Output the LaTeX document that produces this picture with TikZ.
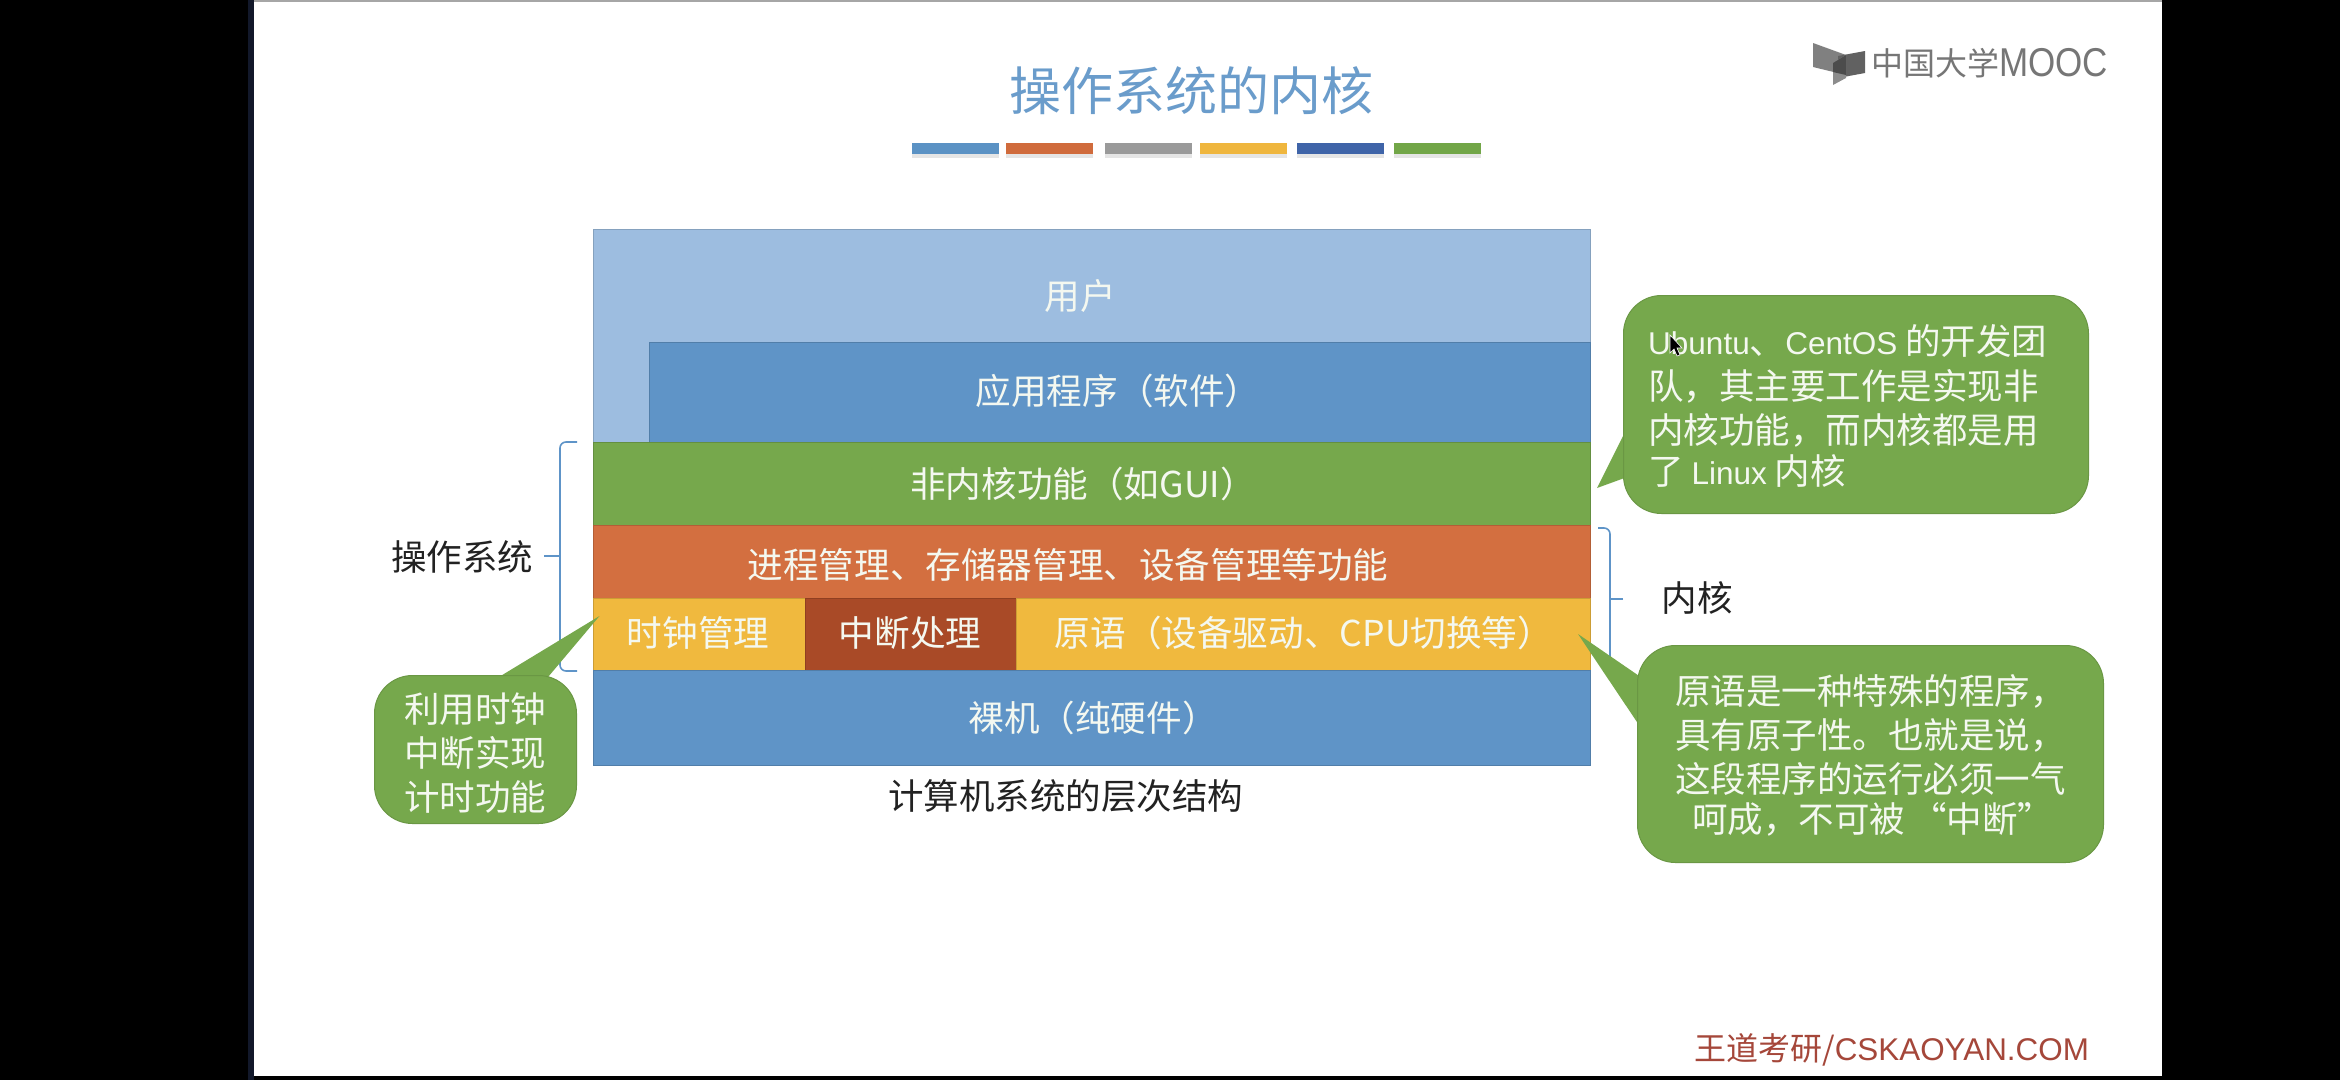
\documentclass[tikz,border=0pt]{standalone}
\usepackage{fontspec}
\setmainfont{Noto Sans CJK SC}
\newfontfamily\footfont{Liberation Sans}
\definecolor{userblue}{HTML}{9DBDE0}
\definecolor{appblue}{HTML}{5F94C7}
\definecolor{kgreen}{HTML}{76A84C}
\definecolor{korange}{HTML}{D36F40}
\definecolor{kyellow}{HTML}{F0B93E}
\definecolor{kbrown}{HTML}{A94A27}
\definecolor{titleblue}{HTML}{6A9CCB}
\definecolor{bracecol}{HTML}{5E94C8}
\definecolor{inktext}{HTML}{222222}
\definecolor{softwhite}{HTML}{F4F8F0}
\definecolor{footred}{HTML}{A5473A}
\definecolor{logogray}{HTML}{767676}
\definecolor{slidenavy}{HTML}{12182A}
\definecolor{barblue}{HTML}{5B92C4}
\definecolor{barorange}{HTML}{D06B3C}
\definecolor{bargray}{HTML}{9A9A9A}
\definecolor{baryellow}{HTML}{EFB63E}
\definecolor{barnavy}{HTML}{3F64A8}
\definecolor{bargreen}{HTML}{72A648}
\newcommand{\fs}[2]{\fontsize{#1}{#2}\selectfont}
\tikzset{
  layer/.style={rectangle,anchor=north west,inner sep=0pt,draw=#1!85!black,fill=#1,line width=1pt},
  ontext/.style={text=softwhite,inner sep=0pt,font=\fs{35.6}{44}},
  blacktext/.style={text=inktext,inner sep=0pt,font=\fs{35.5}{44}},
  bubble/.style={rectangle,anchor=north west,inner sep=0pt,rounded corners=38pt,fill=kgreen,draw=kgreen!90!black,line width=1pt},
  tail/.style={fill=kgreen},
  bubbletext/.style={text=softwhite,inner sep=0pt,anchor=north west,align=left,font=\fs{35.5}{43.7}},
  bracket/.style={draw=bracecol,line width=1.6pt,rounded corners=6pt},
  tick/.style={draw=bracecol,line width=1.6pt},
  deco/.style={rectangle,anchor=north west,inner sep=0pt,minimum height=11pt,minimum width=87pt,fill=#1},
  decoshadow/.style={rectangle,anchor=north west,inner sep=0pt,minimum height=11pt,minimum width=87pt,fill=black,fill opacity=0.10},
}
\begin{document}
\begin{tikzpicture}[x=1pt,y=-1pt]
\useasboundingbox (0,0) rectangle (2340,1080);
% screen and slide
\fill[black] (0,0) rectangle (2340,1080);
\fill[slidenavy] (248,0) rectangle (254,1080);
\fill[white] (254,2) rectangle (2162,1076);
\fill[black!35] (254,0) rectangle (2162,2);
% title
\node[text=titleblue,inner sep=0pt,font=\fs{52}{60}] (title) at (1191,91) {操作系统的内核};
% decorative bars
\foreach \n/\x/\c in {a/912/barblue,b/1006/barorange,c/1105/bargray,d/1200/baryellow,e/1297/barnavy,f/1394/bargreen}{
  \node[decoshadow] (shadow\n) at (\x,147) {};
  \node[deco=\c] (bar\n) at (\x,143) {};
}
% logo
\fill[black!50] (1813,43) -- (1846,55) -- (1846,75) -- (1813,67) -- cycle;
\fill[black!62] (1838,56) -- (1865,51) -- (1865,73) -- (1838,78) -- cycle;
\fill[black!45] (1833,63) -- (1846,55) -- (1846,78) -- (1833,85) -- cycle;
\fill[black!70] (1833,63) -- (1846,55) -- (1846,75) -- (1833,72) -- cycle;
\node[text=logogray,inner sep=0pt,anchor=west,font=\fs{32}{36}] (logo) at (1871,63) {中国大学\raisebox{-1pt}{\scalebox{1}[1.15]{\footfont\fontsize{35}{36}\selectfont MOOC}}};
% layers
\node[layer=userblue,minimum width=997pt,minimum height=213pt] (user) at (593,229) {};
\node[layer=appblue,minimum width=941pt,minimum height=100pt] (app) at (649,342) {};
\node[layer=kgreen,minimum width=997pt,minimum height=83pt] (nonkernel) at (593,442) {};
\node[layer=korange,minimum width=997pt,minimum height=73pt] (mgmt) at (593,525) {};
\node[layer=kyellow,minimum width=212pt,minimum height=72pt] (clock) at (593,598) {};
\node[layer=kbrown,minimum width=211pt,minimum height=72pt] (irq) at (805,598) {};
\node[layer=kyellow,minimum width=574pt,minimum height=72pt] (prim) at (1016,598) {};
\node[layer=appblue,minimum width=997pt,minimum height=95pt] (bare) at (593,670) {};
% layer labels
\node[ontext] (userL) at (1080,296) {用户};
\node[ontext] (appL) at (1118,391) {应用程序（软件）};
\node[ontext] (nonkernelL) at (1083,484) {非内核功能（如GUI）};
\node[ontext] (mgmtL) at (1068,565) {进程管理、存储器管理、设备管理等功能};
\node[ontext] (clockL) at (698,633) {时钟管理};
\node[ontext] (irqL) at (910,633) {中断处理};
\node[ontext] (primL) at (1304,633) {原语（设备驱动、CPU切换等）};
\node[ontext] (bareL) at (1093,718) {裸机（纯硬件）};
\node[blacktext] (caption) at (1065.5,796) {计算机系统的层次结构};
% brackets
\coordinate (osTop) at (577,442);
\coordinate (osBot) at (577,671);
\coordinate (osTick) at (544,556);
\coordinate (kTop) at (1598,528);
\coordinate (kBot) at (1603,671);
\coordinate (kTick) at (1623,599);
\draw[bracket] (osTop) -- (560,442) -- (560,671) -- (osBot);
\draw[tick] (osTick) -- (560,556);
\draw[bracket] (kTop) -- (1610,528) -- (1610,671) -- (kBot);
\draw[tick] (kTick) -- (1610,599);
\node[blacktext] (osL) at (462,557) {操作系统};
\node[blacktext] (kernelL) at (1697,598) {内核};
% callout 1
\fill[tail] (1630,422) -- (1597,488) -- (1630,476) -- cycle;
\node[bubble,minimum width=465pt,minimum height=218pt] (c1) at (1623,295) {};
\node[bubbletext] (c1t) at (1648,324) {{\footfont\fontsize{31.5}{43.7}\selectfont Ubuntu}、{\footfont\fontsize{31.5}{43.7}\selectfont CentOS} 的开发团\\[2pt]队，其主要工作是实现非\\内核功能，而内核都是用\\[-3pt]了 {\footfont\fontsize{31.5}{43.7}\selectfont Linux} 内核};
% callout 2
\fill[tail] (494,680) -- (599.5,616) -- (545.5,680) -- cycle;
\node[bubble,minimum width=202pt,minimum height=148pt] (c2) at (374,675) {};
\node[bubbletext,align=center] (c2t) at (404,693) {利用时钟\\中断实现\\计时功能};
% callout 3
\fill[tail] (1645,680) -- (1578,634) -- (1645,734) -- cycle;
\node[bubble,minimum width=466pt,minimum height=217pt] (c3) at (1637,645) {};
\node[bubbletext] (c3t) at (1675,674) {原语是一种特殊的程序，\\[1pt]具有原子性。也就是说，\\这段程序的运行必须一气\\[-4pt]\hspace*{17pt}呵成，不可被\hspace{6pt}“中断”};
% mouse pointer
\fill[black,draw=white,line width=0.6pt] (1670,335) -- (1670,353) -- (1674,349) -- (1677,356) -- (1680,355) -- (1677,348) -- (1682,348) -- cycle;
% footer
\node[text=footred,inner sep=0pt,anchor=west,font=\fs{32}{38}] (footer) at (1694,1050) {王道考研/{\footfont\fontsize{31.4}{38}\selectfont CSKAOYAN.COM}};
\end{tikzpicture}
\end{document}
